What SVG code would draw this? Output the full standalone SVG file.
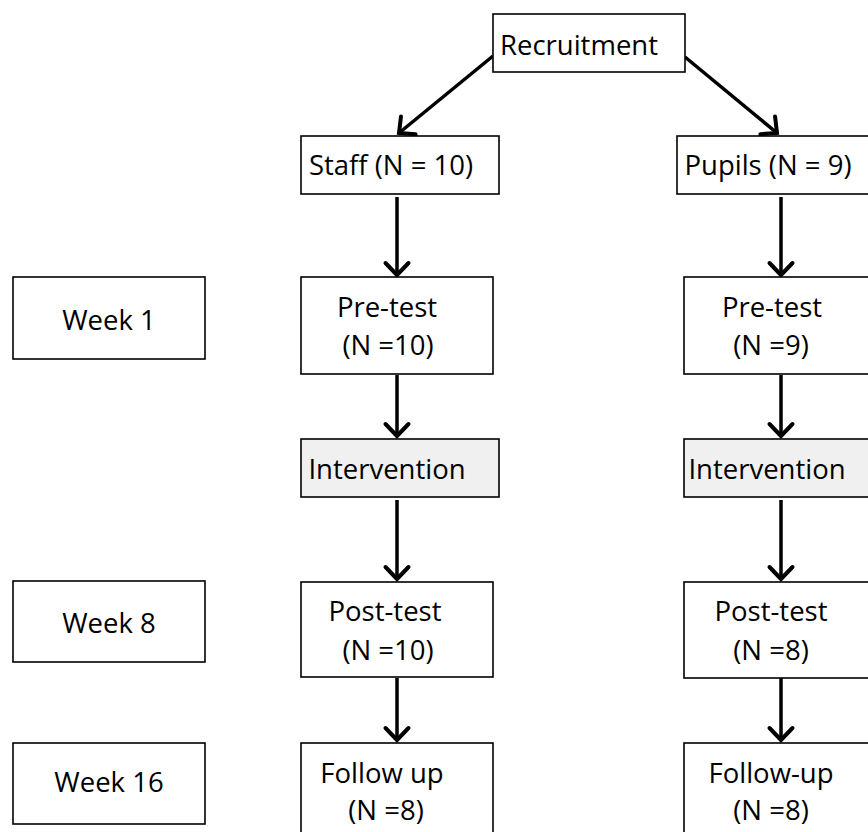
<svg xmlns="http://www.w3.org/2000/svg" width="868" height="832" viewBox="0 0 868 832">
<style>
  .box { fill: #ffffff; stroke: #000000; stroke-width: 1.6; }
  .grey { fill: #f0f0f0; stroke: #000000; stroke-width: 1.6; }
  text { font-family: "Open Sans", "Liberation Sans", sans-serif; font-size: 27.5px; fill: #000000; text-anchor: middle; }
  .conn { stroke: #000000; stroke-width: 3.5; fill: none; }
</style>
<defs>
  <marker id="arr" markerUnits="userSpaceOnUse" viewBox="-18 -18 22 36" markerWidth="22" markerHeight="36" refX="0" refY="0" orient="auto">
    <path d="M-12,-11.5 L0,0 L-12,11.5" fill="none" stroke="#000000" stroke-width="4" stroke-linecap="round" stroke-linejoin="miter"/>
  </marker>
</defs>
<rect width="868" height="832" fill="#ffffff"/>

<g id="connectors">
  <line class="conn" x1="493" y1="56" x2="399" y2="133" marker-end="url(#arr)"/>
  <line class="conn" x1="685" y1="57" x2="777" y2="133" marker-end="url(#arr)"/>
  <line class="conn" x1="397" y1="197" x2="397" y2="275" marker-end="url(#arr)"/>
  <line class="conn" x1="397" y1="375" x2="397" y2="436" marker-end="url(#arr)"/>
  <line class="conn" x1="397" y1="500" x2="397" y2="579" marker-end="url(#arr)"/>
  <line class="conn" x1="397" y1="678" x2="397" y2="740" marker-end="url(#arr)"/>
  <line class="conn" x1="781" y1="197" x2="781" y2="275" marker-end="url(#arr)"/>
  <line class="conn" x1="781" y1="375" x2="781" y2="436" marker-end="url(#arr)"/>
  <line class="conn" x1="781" y1="500" x2="781" y2="579" marker-end="url(#arr)"/>
  <line class="conn" x1="781" y1="678" x2="781" y2="740" marker-end="url(#arr)"/>
</g>

<g id="recruitment">
  <rect class="box" x="493" y="14" width="192" height="58"/>
  <text x="579" y="55">Recruitment</text>
</g>
<g id="staff">
  <rect class="box" x="301" y="136" width="198" height="58"/>
  <text x="391" y="175">Staff (N = 10)</text>
</g>
<g id="pupils">
  <rect class="box" x="677" y="136" width="200" height="58"/>
  <text x="768" y="175">Pupils (N = 9)</text>
</g>

<g id="week1">
  <rect class="box" x="13" y="277" width="192" height="82"/>
  <text x="109" y="330">Week 1</text>
</g>
<g id="week8">
  <rect class="box" x="13" y="581" width="192" height="81"/>
  <text x="109" y="633">Week 8</text>
</g>
<g id="week16">
  <rect class="box" x="13" y="743" width="192" height="81"/>
  <text x="109" y="792">Week 16</text>
</g>

<g id="staff-pretest">
  <rect class="box" x="301" y="277" width="192" height="97"/>
  <text x="387" y="317">Pre-test</text>
  <text x="388" y="355">(N =10)</text>
</g>
<g id="staff-intervention">
  <rect class="grey" x="301" y="439" width="198" height="58"/>
  <text x="387" y="479">Intervention</text>
</g>
<g id="staff-posttest">
  <rect class="box" x="301" y="582" width="192" height="95"/>
  <text x="385" y="621">Post-test</text>
  <text x="388" y="660">(N =10)</text>
</g>
<g id="staff-followup">
  <rect class="box" x="301" y="743" width="192" height="100"/>
  <text x="382" y="783">Follow up</text>
  <text x="386" y="820">(N =8)</text>
</g>

<g id="pupils-pretest">
  <rect class="box" x="684" y="277" width="200" height="97"/>
  <text x="772" y="317">Pre-test</text>
  <text x="771" y="355">(N =9)</text>
</g>
<g id="pupils-intervention">
  <rect class="grey" x="684" y="439" width="200" height="58"/>
  <text x="767" y="479">Intervention</text>
</g>
<g id="pupils-posttest">
  <rect class="box" x="684" y="582" width="200" height="96"/>
  <text x="771" y="621">Post-test</text>
  <text x="771" y="660">(N =8)</text>
</g>
<g id="pupils-followup">
  <rect class="box" x="684" y="743" width="200" height="100"/>
  <text x="771" y="783">Follow-up</text>
  <text x="771" y="820">(N =8)</text>
</g>
</svg>
